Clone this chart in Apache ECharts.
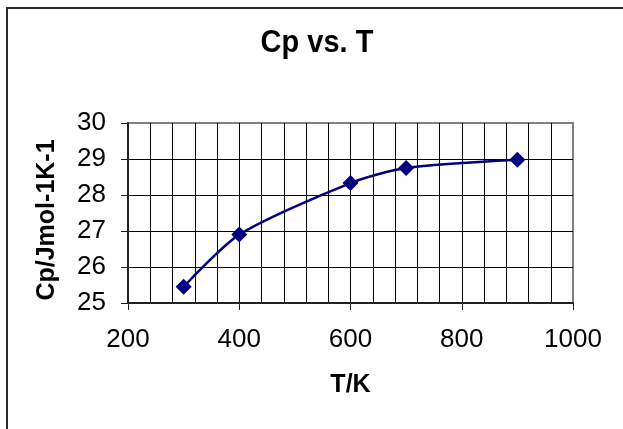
<!DOCTYPE html>
<html>
<head>
<meta charset="utf-8">
<script src="https://cdn.jsdelivr.net/npm/echarts@6/dist/echarts.min.js"></script>
<style>
html,body{margin:0;padding:0;background:#fff;}
#chart{width:623px;height:429px;}
</style>
</head>
<body>
<div id="chart"></div>
<script>
const titleText = 'Cp vs. T';
const xAxisName = 'T/K';
const yAxisName = 'Cp/Jmol-1K-1';
const temperatures = [300, 400, 600, 700, 900];
const cpValues = [25.45, 26.9, 28.33, 28.75, 28.98];
const xRange = [200, 1000];
const yRange = [25, 30];

const FONT = '"Liberation Sans", Arial, sans-serif';
const chart = echarts.init(document.getElementById('chart'), null, {renderer: 'canvas'});

const option = {
  animation: false,
  backgroundColor: '#fff',
  grid: {
    left: 128, top: 123, right: 50, bottom: 126,
    show: true, borderColor: '#808080', borderWidth: 2, backgroundColor: 'transparent'
  },
  graphic: [
    { type: 'rect', shape: {x: 7, y: 8, width: 700, height: 500}, style: {fill: 'none', stroke: '#2b2b2b', lineWidth: 2}, z: 100 },
    { type: 'text', x: 317, y: 43, scaleY: 1.1, style: {text: titleText, font: 'bold 29px ' + FONT, fill: '#000', textAlign: 'center', textVerticalAlign: 'middle'} },
    { type: 'text', x: 47, y: 220, rotation: Math.PI / 2, style: {text: yAxisName, font: 'bold 25px ' + FONT, fill: '#000', textAlign: 'center', textVerticalAlign: 'middle'} }
  ],
  xAxis: {
    type: 'value', min: xRange[0], max: xRange[1], interval: 200,
    name: xAxisName, nameLocation: 'middle', nameGap: 70,
    nameTextStyle: {fontFamily: FONT, fontSize: 25, fontWeight: 'bold', color: '#000'},
    axisLine: {show: true, lineStyle: {color: '#222', width: 2}},
    axisTick: {show: true, length: 7, lineStyle: {color: '#222', width: 1}},
    axisLabel: {fontFamily: FONT, fontSize: 26, color: '#000', margin: 24, formatter: v => String(v)},
    splitLine: {show: true, showMinLine: false, showMaxLine: false, lineStyle: {color: '#000', width: 1}},
    minorTick: {show: false, splitNumber: 5},
    minorSplitLine: {show: true, lineStyle: {color: '#000', width: 1}}
  },
  yAxis: {
    type: 'value', min: yRange[0], max: yRange[1], interval: 1,
    axisLine: {show: true, lineStyle: {color: '#222', width: 2}},
    axisTick: {show: true, length: 7, lineStyle: {color: '#222', width: 1}},
    axisLabel: {fontFamily: FONT, fontSize: 26, color: '#000', margin: 22, formatter: v => String(v)},
    splitLine: {show: true, showMinLine: false, showMaxLine: false, lineStyle: {color: '#000', width: 1}}
  },
  series: [{
    type: 'line',
    data: temperatures.map((t, i) => [t, cpValues[i]]),
    smooth: 0.25,
    symbol: 'diamond', symbolSize: 16,
    lineStyle: {color: '#000080', width: 2.5},
    itemStyle: {color: '#000080'},
    z: 10
  }]
};
chart.setOption(option);
</script>
</body>
</html>
